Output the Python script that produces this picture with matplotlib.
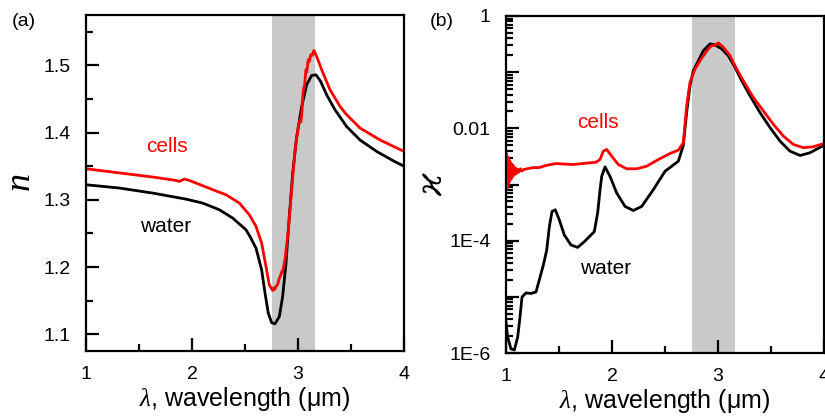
import numpy as np
import matplotlib
matplotlib.use("Agg")
import matplotlib.pyplot as plt
from matplotlib.ticker import FixedLocator, LogLocator, NullFormatter, FixedFormatter

plt.rcParams["font.family"] = ["Liberation Sans", "DejaVu Sans"]
plt.rcParams["mathtext.fontset"] = "custom"
plt.rcParams["mathtext.it"] = "Liberation Serif:italic"
plt.rcParams["mathtext.rm"] = "Liberation Sans"

# ---- refractive index n (panel a) ----
water_n_wl = [1.000, 1.314, 1.629, 1.943, 2.101, 2.258, 2.384, 2.509, 2.547, 2.604, 2.657,
              2.689, 2.720, 2.752, 2.783, 2.824, 2.855, 2.887, 2.918, 2.950, 2.988, 3.035,
              3.082, 3.129, 3.170, 3.214, 3.271, 3.349, 3.459, 3.585, 3.742, 3.899, 4.000]
water_n = [1.3224, 1.3175, 1.3100, 1.3010, 1.2951, 1.2852, 1.2728, 1.2554, 1.2454, 1.2280, 1.1958,
           1.1610, 1.1310, 1.1170, 1.1155, 1.1263, 1.1560, 1.2058, 1.2752, 1.3400, 1.3940, 1.4390,
           1.4713, 1.4850, 1.4860, 1.4760, 1.4560, 1.4340, 1.4090, 1.3890, 1.3720, 1.3580, 1.3500]

cells_n_wl = [1.000, 1.314, 1.629, 1.849, 1.880, 1.928, 1.975, 2.132, 2.321, 2.447, 2.541,
              2.604, 2.657, 2.698, 2.729, 2.761, 2.770, 2.781, 2.792, 2.808, 2.824, 2.835,
              2.846, 2.853, 2.861, 2.877, 2.909, 2.940, 2.972, 3.003, 3.019, 3.027, 3.035,
              3.042, 3.050, 3.062, 3.075, 3.082, 3.097, 3.108, 3.120, 3.135, 3.151, 3.160,
              3.176, 3.223, 3.302, 3.396, 3.459, 3.585, 3.774, 4.000]
cells_n = [1.3462, 1.3400, 1.3339, 1.3288, 1.3273, 1.3309, 1.3288, 1.3190, 1.3075, 1.2951, 1.2777,
           1.2603, 1.2356, 1.2008, 1.1735, 1.1650, 1.1690, 1.1665, 1.1710, 1.1740, 1.1835, 1.1870,
           1.1933, 1.1920, 1.1980, 1.2107, 1.2554, 1.3150, 1.3745, 1.4090, 1.4190, 1.4160, 1.4266,
           1.4450, 1.4638, 1.4700, 1.4936, 1.4900, 1.5085, 1.5060, 1.5160, 1.5150, 1.5223, 1.5190,
           1.5134, 1.4936, 1.4638, 1.4390, 1.4266, 1.4068, 1.3890, 1.3720]

# ---- extinction coefficient kappa (panel b), stored as log10 values ----
water_k_wl = [1.000, 1.016, 1.047, 1.079, 1.110, 1.132, 1.151, 1.189, 1.236, 1.283, 1.314,
              1.352, 1.384, 1.409, 1.434, 1.465, 1.503, 1.550, 1.613, 1.676, 1.739, 1.786,
              1.833, 1.865, 1.887, 1.903, 1.934, 1.981, 2.044, 2.123, 2.201, 2.280, 2.390,
              2.500, 2.563, 2.626, 2.673, 2.704, 2.736, 2.767, 2.815, 2.862, 2.925, 2.972,
              3.035, 3.097, 3.160, 3.223, 3.302, 3.396, 3.491, 3.585, 3.679, 3.774, 3.868,
              4.000]
water_logk = [-5.45, -5.719, -5.927, -5.945, -5.719, -5.360, -5.003, -4.930, -4.940, -4.913,
              -4.700, -4.435, -4.167, -3.750, -3.480, -3.450, -3.630, -3.898, -4.077, -4.120,
              -4.018, -3.928, -3.840, -3.500, -3.100, -2.854, -2.686, -2.854, -3.150, -3.390,
              -3.463, -3.390, -3.092, -2.765, -2.675, -2.585, -2.300, -1.720, -1.243, -0.974,
              -0.795, -0.616, -0.496, -0.514, -0.586, -0.706, -0.913, -1.153, -1.420, -1.719,
              -1.987, -2.227, -2.406, -2.483, -2.435, -2.300]

cells_k_wl = [1.000, 1.004, 1.008, 1.012, 1.016, 1.020, 1.024, 1.028, 1.032, 1.036, 1.040,
              1.045, 1.050, 1.055, 1.060, 1.066, 1.072, 1.078, 1.085, 1.092, 1.100, 1.110,
              1.120, 1.135, 1.150, 1.170, 1.200, 1.250, 1.310, 1.380, 1.470, 1.630, 1.850,
              1.887, 1.918, 1.950, 1.997, 2.060, 2.138, 2.233, 2.327, 2.437, 2.547, 2.626,
              2.673, 2.704, 2.736, 2.783, 2.846, 2.909, 2.940, 2.972, 2.985, 3.003, 3.050,
              3.113, 3.176, 3.239, 3.333, 3.428, 3.522, 3.616, 3.711, 3.805, 3.899, 4.000]
cells_logk = [-2.78, -2.45, -3.08, -2.50, -3.02, -2.52, -2.98, -2.56, -2.95, -2.58, -2.92,
              -2.62, -2.90, -2.64, -2.86, -2.66, -2.84, -2.70, -2.82, -2.71, -2.80, -2.73,
              -2.78, -2.72, -2.76, -2.73, -2.72, -2.70, -2.70, -2.66, -2.627, -2.645, -2.603,
              -2.555, -2.406, -2.376, -2.496, -2.645, -2.720, -2.720, -2.675, -2.555, -2.448, -2.388,
              -2.256, -1.600, -1.180, -0.944, -0.750, -0.586, -0.526, -0.526, -0.500, -0.478, -0.555,
              -0.706, -0.944, -1.153, -1.450, -1.690, -1.928, -2.137, -2.287, -2.345, -2.328, -2.270]

band = (2.75, 3.16)
n_ticks = [1.1, 1.2, 1.3, 1.4, 1.5]
n_minor = [1.15, 1.25, 1.35, 1.45, 1.55]
k_decades = [1e-6, 1e-5, 1e-4, 1e-3, 1e-2, 1e-1, 1]
k_tick_labels = ["1E-6", "", "1E-4", "", "0.01", "", "1"]
x_ticks = [1, 2, 3, 4]
x_labels = ["1", "2", "3", "4"]

RED = "#ff0000"
BAND = "#c9c9c9"
LW = 2.0

fig = plt.figure(figsize=(8.25, 4.18), dpi=100)
ax1 = fig.add_axes([86 / 825, 1 - 351 / 418, 318 / 825, 336 / 418])
ax2 = fig.add_axes([506 / 825, 1 - 353 / 418, 318 / 825, 337 / 418])


def style_axes(ax):
    for sp in ax.spines.values():
        sp.set_linewidth(1.6)
    ax.tick_params(which="both", direction="in", top=False, right=False,
                   width=1.6, labelsize=14, pad=11)
    ax.tick_params(which="major", length=9.5)
    ax.tick_params(which="minor", length=5)
    ax.set_xlim(1, 4)
    ax.xaxis.set_major_locator(FixedLocator(x_ticks))
    ax.xaxis.set_major_formatter(FixedFormatter(x_labels))
    ax.xaxis.set_minor_locator(FixedLocator([1.5, 2.5, 3.5]))
    ax.axvspan(*band, color=BAND, lw=0, zorder=0)
    ax.set_xlabel(r"$\lambda$, wavelength (μm)", fontsize=18, labelpad=1)


# panel (a): real part of the refractive index
style_axes(ax1)
ax1.plot(water_n_wl, water_n, color="black", lw=LW)
ax1.plot(cells_n_wl, cells_n, color=RED, lw=LW)
ax1.set_ylim(1.075, 1.575)
ax1.yaxis.set_major_locator(FixedLocator(n_ticks))
ax1.yaxis.set_minor_locator(FixedLocator(n_minor))
ax1.set_ylabel(r"$n$", fontsize=26, labelpad=4)
ax1.text(1.76, 1.380, "cells", color=RED, fontsize=15, ha="center", va="center")
ax1.text(1.755, 1.260, "water", color="black", fontsize=15, ha="center", va="center")
fig.text(12 / 825, 1 - 22 / 418, "(a)", fontsize=14, va="center")

# panel (b): extinction coefficient on a log axis
style_axes(ax2)
ax2.set_yscale("log")
ax2.plot(water_k_wl, 10.0 ** np.array(water_logk), color="black", lw=LW)
ax2.plot(cells_k_wl, 10.0 ** np.array(cells_logk), color=RED, lw=LW)
ax2.set_ylim(1e-6, 1)
ax2.yaxis.set_major_locator(FixedLocator(k_decades))
ax2.yaxis.set_major_formatter(FixedFormatter(k_tick_labels))
ax2.yaxis.set_minor_locator(LogLocator(base=10, subs=np.arange(2, 10), numticks=20))
ax2.yaxis.set_minor_formatter(NullFormatter())
ax2.set_ylabel("ϰ", fontsize=26, labelpad=0, family=["DejaVu Serif"], style="italic")
ax2.text(1.865, 10 ** -1.89, "cells", color=RED, fontsize=15, ha="center", va="center")
ax2.text(1.94, 10 ** -4.49, "water", color="black", fontsize=15, ha="center", va="center")
fig.text(430 / 825, 1 - 22 / 418, "(b)", fontsize=14, va="center")

fig.savefig("out.png", dpi=100)
